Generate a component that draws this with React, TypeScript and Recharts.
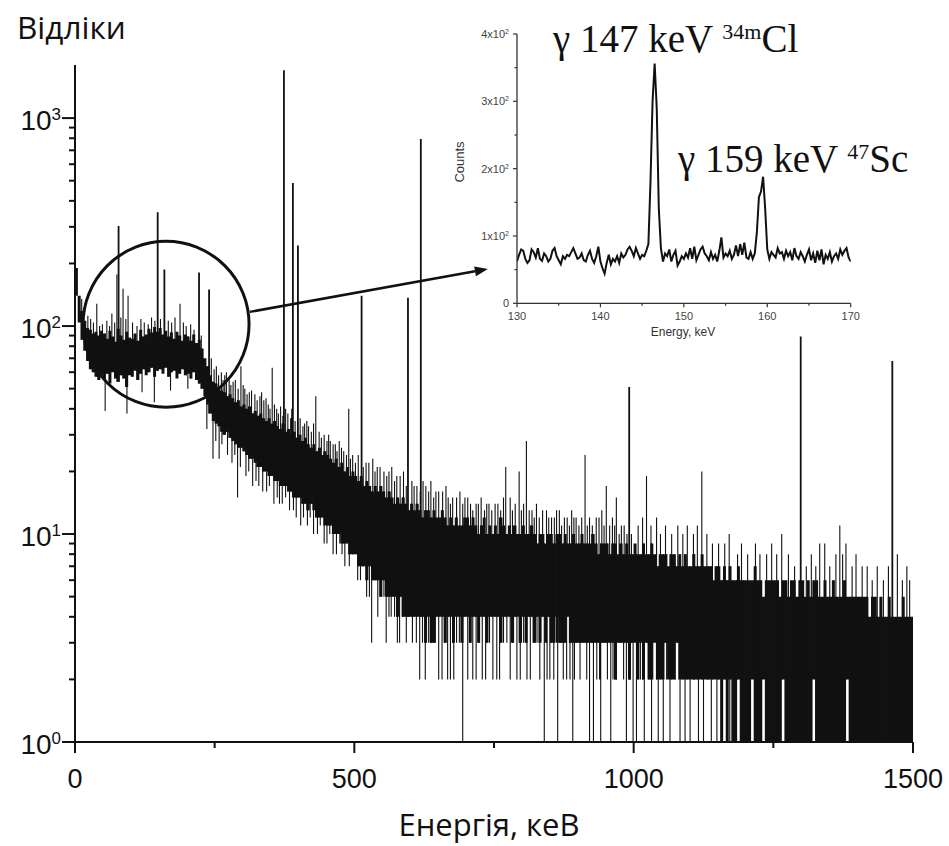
import React from "react";
import {
  ComposedChart,
  LineChart,
  Line,
  XAxis,
  YAxis,
  ReferenceDot,
  ReferenceLine,
} from "recharts";

const SANS = '"Liberation Sans", Arial, Helvetica, sans-serif';
const SERIF = '"Liberation Serif", "Times New Roman", serif';
const TITLE_FONT = '"Open Sans", "Noto Sans", sans-serif';
const INK = "#111";

// ---- main spectrum ----
// dense band of the spectrum, min / max counts inside each 5 keV bin
const BIN_KEV = 5;
const coreHi = [
  190, 140, 118, 106, 98, 96, 92, 94, 90, 95,
  92, 87, 95, 89, 84, 97, 90, 86, 94, 88,
  87, 92, 85, 96, 89, 91, 97, 93, 99, 94,
  98, 91, 95, 89, 93, 87, 94, 90, 85, 91,
  89, 85, 91, 83, 86, 78, 70, 64, 58, 54,
  53, 51, 49, 48, 46, 47, 45, 43, 44, 41,
  42, 40, 41, 38, 39, 37, 38, 36, 35, 36,
  34, 35, 33, 32, 34, 31, 32, 30, 31, 29,
  30, 28, 29, 27, 26, 27, 25, 26, 24, 25,
  24, 23, 22, 23, 21, 22, 20, 21, 19, 20,
  19, 18, 19, 17, 18, 17, 16, 17, 16, 17,
  16, 15, 16, 15, 14, 15, 14, 15, 14, 13,
  14, 13, 14, 13, 12, 13, 13, 12, 13, 12,
  12, 13, 12, 11, 12, 11, 12, 11, 11, 12,
  12, 11, 12, 11, 10, 11, 12, 10, 11, 10,
  11, 10, 12, 11, 10, 11, 10, 11, 10, 10,
  11, 10, 10, 11, 10, 9, 10, 10, 9, 10,
  10, 9, 10, 10, 9, 10, 9, 9, 10, 9,
  9, 10, 9, 9, 9, 10, 9, 8, 9, 9,
  9, 8, 9, 9, 8, 9, 8, 9, 8, 8,
  9, 8, 8, 9, 8, 8, 9, 8, 7, 8,
  8, 8, 7, 8, 8, 7, 8, 7, 8, 7,
  7, 8, 7, 7, 8, 7, 7, 7, 6, 7,
  7, 6, 7, 6, 7, 6, 6, 7, 6, 6,
  6, 6, 6, 7, 6, 6, 5, 6, 6, 6,
  6, 6, 5, 6, 6, 5, 6, 6, 5, 6,
  6, 5, 6, 5, 6, 6, 5, 5, 6, 5,
  5, 6, 5, 5, 5, 6, 5, 5, 5, 5,
  5, 5, 5, 5, 4, 5, 5, 4, 5, 4,
  4, 5, 4, 4, 4, 4, 5, 4, 4, 4,
];
const coreLo = [
  140, 104, 86, 76, 68, 62, 60, 57, 55, 58,
  55, 59, 53, 60, 56, 54, 58, 56, 51, 58,
  57, 61, 55, 59, 62, 58, 60, 63, 57, 61,
  62, 59, 63, 57, 60, 61, 56, 59, 62, 58,
  59, 56, 60, 55, 53, 50, 46, 42, 38, 35,
  34, 33, 31, 30, 31, 29, 28, 27, 26, 26,
  25, 24, 23, 23, 22, 21, 21, 20, 20, 19,
  19, 18, 18, 17, 17, 17, 16, 16, 15, 15,
  15, 14, 14, 13, 14, 13, 12, 12, 12, 11,
  11, 11, 10, 10, 10, 9, 9, 9, 8, 8,
  8, 7, 7, 7, 6, 7, 6, 6, 6, 5,
  6, 5, 5, 5, 5, 4, 5, 4, 4, 4,
  4, 4, 4, 4, 4, 3, 4, 3, 3, 4,
  4, 4, 3, 4, 4, 3, 4, 4, 3, 4,
  4, 3, 4, 4, 3, 4, 4, 3, 4, 4,
  4, 4, 3, 4, 4, 4, 3, 4, 4, 3,
  4, 3, 4, 4, 3, 4, 3, 4, 3, 4,
  3, 3, 4, 3, 3, 3, 4, 3, 3, 3,
  3, 3, 3, 3, 3, 3, 3, 3, 3, 3,
  3, 3, 3, 2, 3, 3, 3, 3, 2, 3,
  3, 2, 3, 2, 3, 2, 2, 3, 2, 2,
  2, 3, 2, 2, 2, 3, 2, 2, 2, 2,
  2, 2, 2, 2, 2, 2, 2, 2, 2, 2,
  2, 1, 2, 1, 2, 1, 1, 2, 1, 1,
  1, 1, 2, 1, 1, 1, 2, 1, 1, 1,
  1, 1, 1, 2, 1, 1, 1, 1, 1, 1,
  1, 1, 1, 1, 2, 1, 1, 1, 1, 1,
  1, 1, 1, 1, 1, 1, 2, 1, 1, 1,
  1, 1, 1, 1, 1, 1, 1, 1, 1, 1,
  1, 1, 1, 1, 1, 1, 1, 1, 1, 1,
];

// single channels sticking out above the band [keV, counts]
const upSpikes: [number, number][] = [
  [12, 135], [23, 112], [28, 108], [33, 104], [39, 128], [44, 100], [49, 102], [57, 106],
  [62, 100], [66, 115], [71, 104], [75, 177], [82, 110], [86, 151], [91, 108], [95, 140],
  [103, 104], [111, 100], [118, 108], [124, 104], [131, 102], [137, 110], [143, 106],
  [153, 108], [167, 106], [173, 104], [179, 110], [188, 128], [194, 104], [199, 100],
  [207, 102], [213, 96], [226, 90], [244, 70], [249, 62], [253, 64], [257, 58], [262, 60],
  [265, 55], [268, 58], [271, 60], [276, 56], [279, 52], [283, 54], [287, 55], [292, 50],
  [297, 64], [301, 52], [304, 50], [308, 47], [312, 48], [316, 49], [322, 47], [326, 44],
  [331, 46], [334, 48], [338, 44], [342, 45], [346, 42], [349, 40], [353, 63], [357, 42],
  [361, 40], [364, 38], [368, 41], [372, 37], [377, 40], [381, 38], [386, 36], [388, 40],
  [394, 35], [403, 36], [408, 33], [411, 34], [415, 35], [418, 33], [423, 31], [427, 34],
  [431, 46], [437, 31], [441, 29], [446, 30], [451, 28], [454, 30], [457, 28], [462, 27],
  [466, 27], [469, 25], [473, 28], [477, 26], [481, 25], [486, 24], [490, 40], [493, 23],
  [497, 24], [502, 22], [507, 24], [516, 21], [521, 22], [526, 22], [533, 23], [537, 20],
  [541, 21], [546, 21], [553, 20], [558, 19], [562, 20], [567, 21], [572, 18], [576, 19],
  [582, 19], [588, 20], [593, 17], [603, 18], [607, 17], [612, 17], [618, 16], [623, 18],
  [628, 17], [633, 16], [637, 18], [642, 15], [646, 16], [651, 16], [658, 16], [664, 17],
  [668, 15], [672, 14], [676, 15], [683, 15], [689, 16], [694, 14], [698, 15], [703, 15],
  [708, 14], [712, 13], [718, 14], [722, 14], [727, 15], [733, 13], [737, 14], [741, 14],
  [746, 13], [752, 14], [757, 14], [762, 13], [767, 15], [771, 21], [779, 15], [783, 13],
  [788, 14], [795, 20], [799, 13], [803, 14], [808, 28], [813, 13], [818, 13], [822, 12],
  [826, 14], [831, 12], [837, 13], [844, 13], [848, 12], [853, 12], [858, 12], [862, 13],
  [867, 13], [871, 11], [876, 12], [881, 12], [885, 11], [889, 13], [893, 12], [897, 12],
  [902, 11], [907, 12], [913, 24], [917, 11], [921, 12], [926, 11], [933, 12], [938, 12],
  [943, 13], [947, 11], [951, 17], [957, 11], [962, 12], [966, 11], [969, 15], [974, 10],
  [978, 11], [983, 11], [988, 10], [996, 10], [1008, 11], [1016, 12], [1023, 19],
  [1031, 11], [1041, 12], [1048, 10], [1057, 11], [1068, 10], [1079, 11], [1088, 10],
  [1096, 11], [1107, 10], [1114, 11], [1122, 20], [1131, 10], [1141, 9], [1152, 9],
  [1163, 9], [1171, 10], [1186, 8], [1193, 9], [1204, 8], [1218, 9], [1226, 8], [1238, 8],
  [1247, 9], [1256, 8], [1265, 10], [1277, 8], [1288, 7], [1309, 7], [1318, 8], [1326, 7],
  [1333, 9], [1342, 9], [1351, 7], [1362, 8], [1369, 11], [1374, 8], [1380, 9], [1391, 7],
  [1398, 8], [1409, 7], [1418, 7], [1427, 6], [1436, 7], [1447, 6], [1456, 7], [1472, 8],
  [1481, 6], [1489, 7], [1494, 6],
];

// single channels dropping below the band [keV, counts]
const dipSpikes: [number, number][] = [
  [54, 39], [93, 38], [120, 48], [142, 43], [171, 49], [202, 50], [236, 32], [247, 23],
  [252, 28], [258, 23], [263, 27], [273, 24], [281, 22], [286, 24], [291, 15], [296, 21],
  [306, 19], [311, 20], [318, 17], [324, 18], [329, 17], [336, 16], [343, 16], [348, 17],
  [356, 14], [362, 15], [366, 14], [371, 14], [377, 15], [384, 13], [391, 13], [396, 12],
  [404, 11], [409, 12], [416, 11], [421, 12], [427, 10], [434, 10], [439, 11], [446, 9],
  [451, 9], [456, 10], [462, 8], [468, 8], [474, 9], [478, 8], [483, 7], [491, 7], [497, 8],
  [506, 6], [511, 6], [516, 7], [522, 5], [527, 5], [531, 3], [536, 6], [542, 4], [548, 5],
  [553, 5], [557, 3], [562, 4], [566, 4], [572, 4], [577, 3], [581, 3], [586, 4], [593, 3],
  [598, 4], [604, 3], [611, 3], [617, 2], [622, 3], [627, 2], [633, 3], [638, 3], [645, 3],
  [651, 2], [657, 2], [662, 3], [667, 2], [672, 2], [678, 2], [683, 3], [688, 3], [694, 1],
  [703, 2], [707, 3], [712, 2], [718, 2], [723, 3], [729, 2], [735, 2], [742, 3], [748, 2],
  [755, 2], [760, 2], [767, 3], [773, 3], [779, 2], [785, 3], [791, 2], [797, 2], [803, 3],
  [809, 2], [815, 2], [820, 3], [827, 3], [832, 2], [840, 1], [845, 2], [850, 2], [857, 2],
  [862, 3], [864, 1], [869, 3], [874, 2], [880, 2], [886, 2], [891, 1], [894, 2], [898, 3],
  [904, 2], [910, 3], [916, 2], [921, 1], [925, 3], [928, 1], [934, 2], [939, 2], [941, 1],
  [946, 3], [953, 2], [959, 1], [963, 2], [969, 2], [975, 3], [982, 2], [987, 1], [993, 2],
  [999, 1], [1005, 1], [1012, 2], [1019, 1], [1027, 2], [1032, 1], [1044, 1], [1053, 1],
  [1059, 2], [1065, 1], [1074, 2], [1083, 1], [1092, 1], [1101, 1], [1109, 2], [1116, 1],
  [1125, 1], [1134, 2], [1139, 1], [1149, 1], [1158, 1], [1167, 1], [1172, 1], [1178, 1],
  [1184, 1], [1196, 1],
];

// gamma lines [keV, counts]
const peaks: [number, number][] = [
  [78, 303], [148, 353], [160, 187], [222, 181], [240, 150], [374, 1700], [390, 487],
  [399, 244], [513, 140], [596, 137], [619, 794], [992, 51], [1299, 89], [1463, 68],
];

const xTicks = [0, 250, 500, 750, 1000, 1250, 1500];
const yTicks = [
  1, 2, 3, 4, 5, 6, 7, 8, 9, 10, 20, 30, 40, 50, 60, 70, 80, 90,
  100, 200, 300, 400, 500, 600, 700, 800, 900, 1000,
];

// circle round the 130-250 keV region, arrow to the inset (keV, counts)
const ringAt = { e: 163, counts: 102 };
const arrowFrom = { e: 313, counts: 117 };
const arrowTo = { e: 739, counts: 188 };

// ---- inset: 130-170 keV, linear counts ----
const insetStart = 130;
const insetStep = 0.25;
const insetCounts = [
  62, 72, 80, 78, 66, 60, 64, 80, 76, 68, 82, 66, 63, 74, 70, 62,
  66, 78, 82, 70, 64, 58, 70, 66, 72, 70, 76, 82, 74, 66, 68, 74,
  64, 62, 72, 78, 66, 60, 70, 84, 62, 52, 44, 60, 72, 58, 66, 62,
  70, 60, 74, 68, 72, 80, 84, 78, 70, 82, 74, 66, 72, 70, 78, 88,
  180, 300, 356, 290, 140, 82, 62, 74, 70, 80, 62, 72, 78, 56, 62, 70,
  66, 74, 68, 82, 66, 84, 64, 72, 80, 84, 74, 70, 64, 76, 66, 72,
  62, 78, 98, 68, 74, 70, 78, 66, 72, 86, 70, 88, 72, 90, 68, 66,
  76, 66, 74, 105, 158, 166, 188, 140, 80, 66, 76, 72, 68, 82, 74, 76,
  66, 78, 70, 76, 64, 82, 70, 66, 76, 70, 62, 72, 80, 64, 74, 60,
  78, 64, 80, 58, 72, 66, 76, 62, 70, 74, 66, 80, 72, 78, 82, 68,
  62,
];
const insetXTicks = [130, 135, 140, 145, 150, 155, 160, 165, 170];
const insetYTicks = [0, 50, 100, 150, 200, 250, 300, 350, 400];

// ---- build drawing tables ----
type Pt = { e: number; v: number | null };

function verticals(es: number[], from: number[], to: number[]): Pt[] {
  const rows: Pt[] = [];
  es.forEach((e, i) => {
    rows.push({ e, v: from[i] }, { e, v: to[i] }, { e, v: null });
  });
  return rows;
}

const binE = coreHi.map((_, i) => i * BIN_KEV + BIN_KEV / 2);
const binOf = (e: number) => Math.min(coreHi.length - 1, Math.floor(e / BIN_KEV));

const coreRows = verticals(binE, coreLo, coreHi);
const upRows = verticals(
  upSpikes.map((s) => s[0]),
  upSpikes.map((s) => coreLo[binOf(s[0])]),
  upSpikes.map((s) => s[1])
);
const dipRows = verticals(
  dipSpikes.map((s) => s[0]),
  dipSpikes.map((s) => coreHi[binOf(s[0])]),
  dipSpikes.map((s) => s[1])
);
const peakRows = verticals(
  peaks.map((s) => s[0]),
  peaks.map((s) => coreLo[binOf(s[0])]),
  peaks.map((s) => s[1])
);
const insetRows = insetCounts.map((c, i) => ({ e: insetStart + i * insetStep, c }));

// ---- ticks ----
function MainYTick(props: any) {
  const { x, y, payload } = props;
  const lg = Math.log10(payload.value);
  const exp = Math.round(lg);
  const major = Math.abs(lg - exp) < 1e-9;
  return (
    <g>
      <line x1={x - (major ? 13 : 6)} x2={x} y1={y} y2={y} stroke={INK} strokeWidth={2} />
      {major && (
        <text x={x - 14} y={y + 12} textAnchor="end" fontSize={28} fill={INK} fontFamily={SANS}>
          10
          <tspan dy={-10} fontSize={17}>
            {exp}
          </tspan>
        </text>
      )}
    </g>
  );
}

function MainXTick(props: any) {
  const { x, y, payload } = props;
  const major = payload.value % 500 === 0;
  return (
    <g>
      <line x1={x} x2={x} y1={y} y2={y + (major ? 11 : 6)} stroke={INK} strokeWidth={2} />
      {major && (
        <text x={x} y={y + 46} textAnchor="middle" fontSize={27} fill={INK} fontFamily={SANS}>
          {payload.value}
        </text>
      )}
    </g>
  );
}

function InsetYTick(props: any) {
  const { x, y, payload } = props;
  const v = payload.value;
  const major = v % 100 === 0;
  return (
    <g>
      <line x1={x - (major ? 4 : 2.5)} x2={x} y1={y} y2={y} stroke="#333" strokeWidth={1.2} />
      {major && (
        <text x={x - 8} y={y + 4} textAnchor="end" fontSize={11} fill="#444" fontFamily={SANS}>
          {v === 0 ? (
            "0"
          ) : (
            <>
              {`${v / 100}x10`}
              <tspan dy={-4} fontSize={7}>
                2
              </tspan>
            </>
          )}
        </text>
      )}
    </g>
  );
}

function InsetXTick(props: any) {
  const { x, y, payload } = props;
  const major = payload.value % 10 === 0;
  return (
    <g>
      <line x1={x} x2={x} y1={y} y2={y + (major ? 4 : 2.5)} stroke="#333" strokeWidth={1.2} />
      {major && (
        <text x={x} y={y + 17} textAnchor="middle" fontSize={11} fill="#444" fontFamily={SANS}>
          {payload.value}
        </text>
      )}
    </g>
  );
}

function Arrow(p: any) {
  const { x1, y1, x2, y2 } = p;
  const ang = Math.atan2(y2 - y1, x2 - x1);
  const len = 13;
  const half = 5;
  const bx = x2 - len * Math.cos(ang);
  const by = y2 - len * Math.sin(ang);
  const nx = -Math.sin(ang) * half;
  const ny = Math.cos(ang) * half;
  return (
    <g>
      <line x1={x1} y1={y1} x2={bx} y2={by} stroke={INK} strokeWidth={2.5} />
      <polygon points={`${x2},${y2} ${bx + nx},${by + ny} ${bx - nx},${by - ny}`} fill={INK} />
    </g>
  );
}

const lineCommon = {
  dataKey: "v",
  stroke: INK,
  dot: false,
  activeDot: false,
  connectNulls: false,
  isAnimationActive: false,
  strokeLinecap: "butt" as const,
};

export default function App() {
  return (
    <div
      style={{
        position: "absolute",
        left: 0,
        top: 0,
        width: 949,
        height: 846,
        background: "#fff",
        overflow: "hidden",
      }}
    >
      <ComposedChart width={949} height={846} margin={{ top: 65, right: 36, bottom: 54, left: 15 }}>
        <XAxis
          type="number"
          dataKey="e"
          domain={[0, 1500]}
          allowDataOverflow
          ticks={xTicks}
          interval={0}
          tickSize={0}
          tickMargin={0}
          tickLine={false}
          tick={MainXTick}
          axisLine={{ stroke: INK, strokeWidth: 2 }}
          height={50}
        />
        <YAxis
          type="number"
          scale="log"
          domain={[1, 1800]}
          allowDataOverflow
          ticks={yTicks}
          interval={0}
          tickSize={0}
          tickMargin={0}
          tickLine={false}
          tick={MainYTick}
          axisLine={{ stroke: INK, strokeWidth: 2 }}
          width={60}
        />
        <Line {...lineCommon} data={coreRows} strokeWidth={3} />
        <Line {...lineCommon} data={upRows} strokeWidth={1.1} />
        <Line {...lineCommon} data={dipRows} strokeWidth={1.1} />
        <Line {...lineCommon} data={peakRows} strokeWidth={1.8} />
        <ReferenceDot
          x={ringAt.e}
          y={ringAt.counts}
          r={83}
          fill="none"
          stroke={INK}
          strokeWidth={3}
        />
        <ReferenceLine
          segment={[
            { x: arrowFrom.e, y: arrowFrom.counts },
            { x: arrowTo.e, y: arrowTo.counts },
          ]}
          shape={Arrow}
        />
      </ComposedChart>

      <div style={{ position: "absolute", left: 440, top: 20 }}>
        <LineChart
          width={430}
          height={330}
          data={insetRows}
          margin={{ top: 14, right: 19.3, bottom: 16.7, left: 27 }}
        >
          <XAxis
            type="number"
            dataKey="e"
            domain={[130, 170]}
            allowDataOverflow
            ticks={insetXTicks}
            interval={0}
            tickSize={0}
            tickMargin={0}
            tickLine={false}
            tick={InsetXTick}
            axisLine={{ stroke: "#333", strokeWidth: 1.3 }}
            height={30}
          />
          <YAxis
            type="number"
            domain={[0, 400]}
            allowDataOverflow
            ticks={insetYTicks}
            interval={0}
            tickSize={0}
            tickMargin={0}
            tickLine={false}
            tick={InsetYTick}
            axisLine={{ stroke: "#333", strokeWidth: 1.3 }}
            width={50}
          />
          <Line
            dataKey="c"
            stroke={INK}
            strokeWidth={2}
            dot={false}
            activeDot={false}
            isAnimationActive={false}
          />
        </LineChart>
      </div>

      <svg
        width={949}
        height={846}
        style={{ position: "absolute", left: 0, top: 0, pointerEvents: "none" }}
      >
        <text x={17} y={39} fontSize={31.5} fontFamily={TITLE_FONT} fill={INK}>
          Відліки
        </text>
        <text x={489} y={836} fontSize={31} fontFamily={TITLE_FONT} fill={INK} textAnchor="middle">
          Енергія, кеВ
        </text>
        <text
          x={459}
          y={162}
          fontSize={13}
          fontFamily={SANS}
          fill="#333"
          textAnchor="middle"
          dominantBaseline="central"
          transform="rotate(-90 459 162)"
        >
          Counts
        </text>
        <text x={683} y={336} fontSize={12} fontFamily={SANS} fill="#333" textAnchor="middle">
          Energy, keV
        </text>
        <text x={553} y={52} fontSize={39} fontFamily={SERIF} fill={INK}>
          γ 147 keV{" "}
          <tspan dy={-13} fontSize={22}>
            34m
          </tspan>
          <tspan dy={13}>Cl</tspan>
        </text>
        <text x={678} y={172} fontSize={39} fontFamily={SERIF} fill={INK}>
          γ 159 keV{" "}
          <tspan dy={-13} fontSize={22}>
            47
          </tspan>
          <tspan dy={13}>Sc</tspan>
        </text>
      </svg>
    </div>
  );
}
